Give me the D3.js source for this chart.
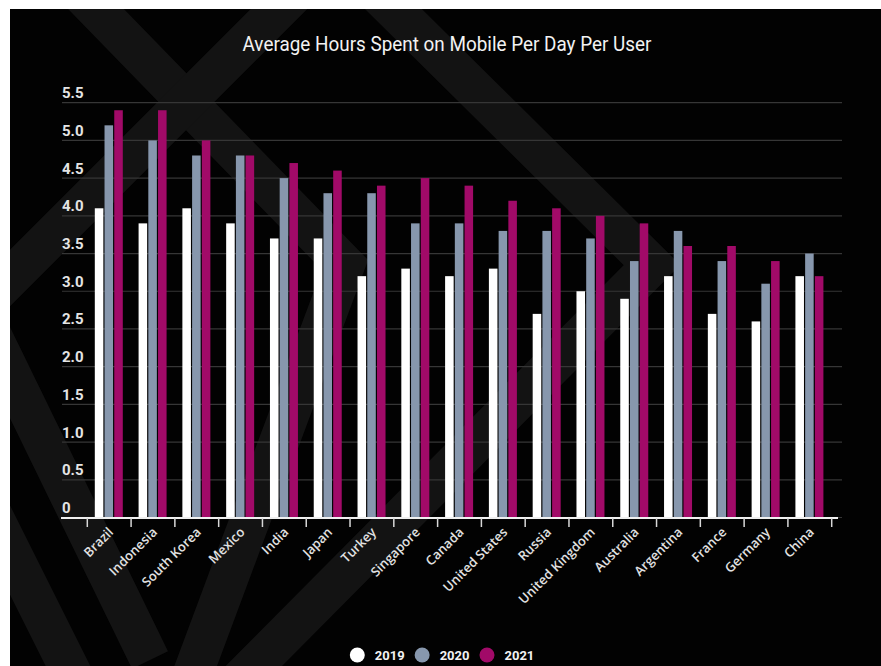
<!DOCTYPE html>
<html>
<head>
<meta charset="utf-8">
<script src="https://cdn.jsdelivr.net/npm/d3@7"></script>
<style>
  body { margin: 0; background: #fff; }
  svg { display: block; }
</style>
</head>
<body>
<div id="chart"></div>
<script>
var countries = ["Brazil", "Indonesia", "South Korea", "Mexico", "India", "Japan", "Turkey", "Singapore",
    "Canada", "United States", "Russia", "United Kingdom", "Australia", "Argentina", "France", "Germany", "China"];
var years = ["2019", "2020", "2021"];
var hours2019 = [4.1, 3.9, 4.1, 3.9, 3.7, 3.7, 3.2, 3.3, 3.2, 3.3, 2.7, 3.0, 2.9, 3.2, 2.7, 2.6, 3.2];
var hours2020 = [5.2, 5.0, 4.8, 4.8, 4.5, 4.3, 4.3, 3.9, 3.9, 3.8, 3.8, 3.7, 3.4, 3.8, 3.4, 3.1, 3.5];
var hours2021 = [5.4, 5.4, 5.0, 4.8, 4.7, 4.6, 4.4, 4.5, 4.4, 4.2, 4.1, 4.0, 3.9, 3.6, 3.6, 3.4, 3.2];
var yTicks = [0, 0.5, 1, 1.5, 2, 2.5, 3, 3.5, 4, 4.5, 5, 5.5];
var yearColors = ["#ffffff", "#8797ad", "#a10a68"];

var width = 881, height = 666;

var svg = d3.select("#chart")
    .append("svg")
    .attr("width", width)
    .attr("height", height);

// black panel, with the white strip left and top
svg.append("rect").attr("width", width).attr("height", height).attr("fill", "#fff");
svg.append("rect").attr("x", 10).attr("y", 9)
    .attr("width", width - 10).attr("height", height - 9)
    .attr("fill", "#020202");

svg.append("clipPath").attr("id", "panel")
    .append("rect").attr("x", 10).attr("y", 9).attr("width", width - 10).attr("height", height - 9);

// faint decorative chevrons in the back
var deco = svg.append("g").attr("clip-path", "url(#panel)");
var bands = [
    [[60, -28], [345, 265], [183, 700]],
    [[320, -32], [-21, 309], [150, 660]],
    [[355, -29], [652, 265], [230, 690]],
    [[-20, 490], [85, 700]]
];
deco.selectAll("polyline")
    .data(bands)
    .enter().append("polyline")
    .attr("points", function (d) { return d.join(" "); })
    .attr("fill", "none")
    .attr("stroke", "#131313")
    .attr("stroke-width", 40)
    .attr("stroke-linejoin", "miter");

var x = d3.scaleBand()
    .domain(countries)
    .range([87.3, 831.7]);

var x1 = d3.scaleBand()
    .domain(years)
    .range([7.5, 35.5])
    .paddingInner(0.12);

var y = d3.scaleLinear()
    .domain([0, 5.5])
    .range([517.5, 102.7]);

var color = d3.scaleOrdinal().domain(years).range(yearColors);

// title
svg.append("text")
    .attr("x", 447)
    .attr("y", 51)
    .attr("text-anchor", "middle")
    .attr("font-family", "Roboto, sans-serif")
    .attr("font-size", "20px")
    .attr("fill", "#f2f2f2")
    .attr("textLength", 409)
    .attr("lengthAdjust", "spacingAndGlyphs")
    .text("Average Hours Spent on Mobile Per Day Per User");

// grid + y labels
var grid = svg.append("g");
grid.selectAll("line")
    .data(yTicks)
    .enter().append("line")
    .attr("x1", 62).attr("x2", 842)
    .attr("y1", function (d) { return y(d); })
    .attr("y2", function (d) { return y(d); })
    .attr("stroke", "#363636")
    .attr("stroke-width", 1.2);

grid.selectAll("text")
    .data(yTicks)
    .enter().append("text")
    .attr("x", 62)
    .attr("y", function (d) { return y(d) - 4.5; })
    .attr("font-family", "Roboto, sans-serif")
    .attr("font-weight", "bold")
    .attr("font-size", "15px")
    .attr("fill", "#e4e4e4")
    .text(function (d) { return d === 0 ? "0" : d3.format(".1f")(d); });

// bars
var rows = countries.map(function (c, i) {
    return { country: c, values: [hours2019[i], hours2020[i], hours2021[i]] };
});

var groups = svg.selectAll(".country")
    .data(rows)
    .enter().append("g")
    .attr("class", "country")
    .attr("transform", function (d) { return "translate(" + x(d.country) + ",0)"; });

groups.selectAll("rect")
    .data(function (d) {
        return years.map(function (yr, k) { return { year: yr, value: d.values[k] }; });
    })
    .enter().append("rect")
    .attr("x", function (d) { return x1(d.year); })
    .attr("width", x1.bandwidth())
    .attr("y", function (d) { return y(d.value); })
    .attr("height", function (d) { return y(0) - y(d.value); })
    .attr("fill", function (d) { return color(d.year); });

// x axis
var xAxis = svg.append("g")
    .attr("transform", "translate(0,518)")
    .call(d3.axisBottom(x).tickSize(0));
xAxis.select(".domain").remove();
xAxis.selectAll("text")
    .attr("y", 0)
    .attr("dy", 0)
    .attr("transform", "translate(5,15) rotate(-45)")
    .attr("text-anchor", "end")
    .attr("font-family", "'Open Sans', sans-serif")
    .attr("font-weight", 600)
    .attr("font-size", "13px")
    .attr("fill", "#e2e2e2");

xAxis.append("line")
    .attr("x1", 61).attr("x2", 838)
    .attr("stroke", "#f0f0f0")
    .attr("stroke-width", 2);

var edges = countries.map(function (c) { return x(c); }).concat([x.range()[1]]);
xAxis.selectAll(".edge")
    .data(edges)
    .enter().append("line")
    .attr("class", "edge")
    .attr("x1", function (d) { return d; })
    .attr("x2", function (d) { return d; })
    .attr("y1", 0).attr("y2", 9)
    .attr("stroke", "#d8d8d8")
    .attr("stroke-width", 1.5);

// legend
var legend = svg.append("g");
var lx = 357.3;
years.forEach(function (yr) {
    legend.append("circle")
        .attr("cx", lx).attr("cy", 655).attr("r", 7.5)
        .attr("fill", color(yr));
    var t = legend.append("text")
        .attr("x", lx + 17.5)
        .attr("y", 659.5)
        .attr("font-family", "Roboto, sans-serif")
        .attr("font-weight", "bold")
        .attr("font-size", "13px")
        .attr("fill", "#f2f2f2")
        .text(yr);
    lx = lx + 17.5 + t.node().getComputedTextLength() + 17.5;
});
</script>
</body>
</html>
